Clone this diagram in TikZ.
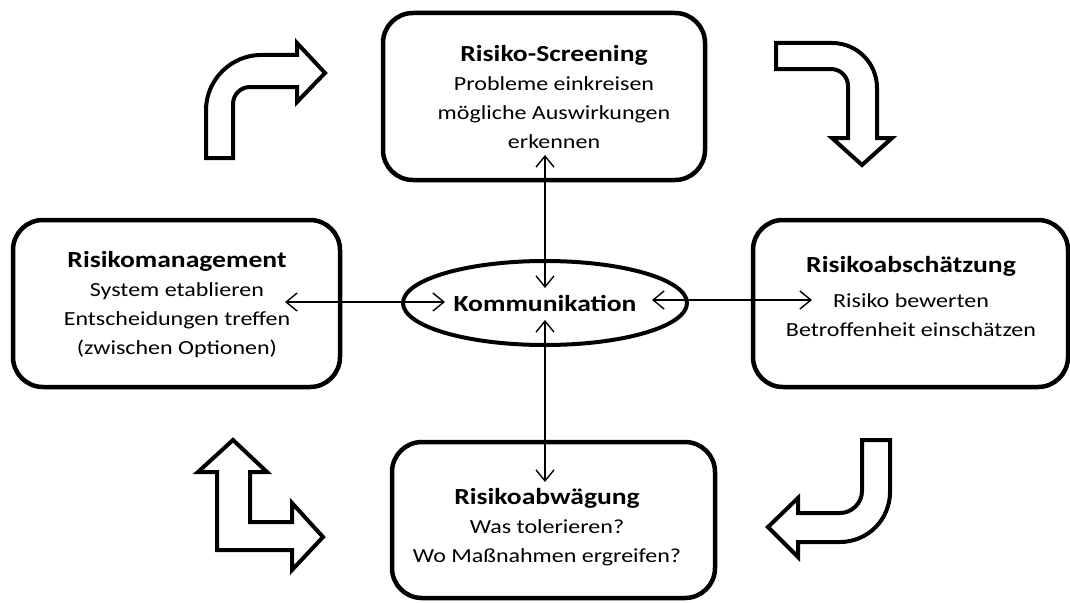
\documentclass[tikz,border=0pt]{standalone}
\usepackage{fontspec}
\setmainfont{Carlito}[FakeStretch=1.2]
\usetikzlibrary{arrows.meta,shapes.geometric}
\begin{document}
\begin{tikzpicture}[x=1pt,y=-1pt,
  box/.style={draw, line width=4.5pt, rounded corners=30pt, inner sep=0pt},
  txt/.style={align=center, inner sep=0pt, font=\fontsize{20}{29}\selectfont},
  ttl/.style={font=\bfseries\fontsize{23}{29}\selectfont},
  ell/.style={draw, ellipse, line width=4pt, inner sep=0pt, minimum width=284pt, minimum height=84pt, font=\bfseries\fontsize{23}{29}\selectfont},
  conn/.style={line width=1.4pt, {Straight Barb[length=11pt,width=18pt]}-{Straight Barb[length=11pt,width=18pt]}},
  block/.style={draw, line width=4pt, line join=miter}]
\useasboundingbox (0,0) rectangle (1070,602);

% boxes
\node[box, minimum width=322pt, minimum height=167pt] (screen) at (544,96.5) {};
\node[box, minimum width=327pt, minimum height=167pt] (manage) at (176.5,303.5) {};
\node[box, minimum width=315pt, minimum height=167pt] (assess) at (910.5,303.5) {};
\node[box, minimum width=323pt, minimum height=156pt] (weigh) at (553.5,520) {};
\node[ell] (komm) at (545,303) {Kommunikation};

% texts
\node[txt] (screentxt) at (554,96.5) {{\bfseries\fontsize{23}{29}\selectfont Risiko-Screening}\\Probleme einkreisen\\mögliche Auswirkungen\\erkennen};
\node[txt] (managetxt) at (177,305) {{\bfseries\fontsize{23}{29}\selectfont Risikomanagement}\\System etablieren\\Entscheidungen treffen\\(zwischen Optionen)};
\node[txt] (assesstxt) at (911,297) {{\bfseries\fontsize{23}{29}\selectfont Risikoabschätzung}\\[6pt]Risiko bewerten\\Betroffenheit einschätzen};
\node[txt] (weightxt) at (547,527) {{\bfseries\fontsize{23}{29}\selectfont Risikoabwägung}\\Was tolerieren?\\Wo Maßnahmen ergreifen?};

% connector ends
\coordinate (sTip) at (545,155);
\coordinate (kTop) at (545,288);
\coordinate (kBot) at (545,320);
\coordinate (wTip) at (545,482);
\coordinate (mTip) at (285,302);
\coordinate (kLeft) at (445,302);
\coordinate (kRight) at (652,300);
\coordinate (aTip) at (812,300);

\draw[conn] (sTip) -- (kTop);
\draw[conn] (kBot) -- (wTip);
\draw[conn] (mTip) -- (kLeft);
\draw[conn] (kRight) -- (aTip);

% block arrows
\draw[block] (206,158) -- (206,110) .. controls (206,80) and (231,55) .. (261,55) -- (297,55) -- (297,43) -- (325,73) -- (297,102) -- (297,87) -- (250,87) .. controls (240.6,87) and (233,94.6) .. (233,104) -- (233,158) -- cycle;
\draw[block] (776,43) -- (832,43) .. controls (857,43) and (877,63) .. (877,88) -- (877,138) -- (892,138) -- (862,165) -- (832,138) -- (848,138) -- (848,86) .. controls (848,76.6) and (840.4,69) .. (831,69) -- (776,69) -- cycle;
\draw[block] (862,440) -- (890,440) -- (890,492) .. controls (890,519.6) and (867.6,542) .. (840,542) -- (798,542) -- (798,557) -- (768,527) -- (798,498) -- (798,513) -- (840,513) .. controls (852,513) and (862,503) .. (862,491) -- cycle;
\draw[block] (233,440) -- (267,472) -- (250,472) -- (250,522) -- (292,522) -- (292,503) -- (323,537) -- (292,570) -- (292,550) -- (217,550) -- (217,472) -- (198,472) -- cycle;
\end{tikzpicture}
\end{document}
